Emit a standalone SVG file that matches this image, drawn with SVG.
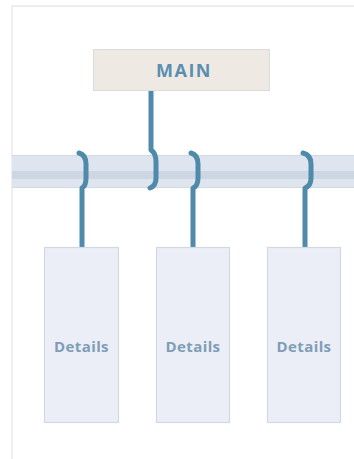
<svg xmlns="http://www.w3.org/2000/svg" width="354" height="459" viewBox="0 0 354 459">
  <style>
    .frame { fill: #ffffff; stroke: #eceef2; stroke-width: 2; }
    .main-box { fill: #efe9e3; stroke: #dcdcdc; stroke-width: 1; }
    .detail-box { fill: #ebeef6; stroke: #d3d9e2; stroke-width: 1.2; }
    .conn { fill: none; stroke: #4f8aab; stroke-width: 5; stroke-linecap: round; stroke-linejoin: round; }
    .main-text { font-family: "Open Sans", "Liberation Sans", sans-serif; font-weight: 700; font-size: 18px; fill: #5a8fb2; letter-spacing: 1.5px; }
    .detail-text { font-family: "Open Sans", "Liberation Sans", sans-serif; font-weight: 700; font-size: 15px; fill: #7f9db7; letter-spacing: 0.4px; }
  </style>
  <rect x="0" y="0" width="354" height="459" fill="#ffffff"/>
  <rect class="frame" x="12" y="6" width="360" height="460"/>

  <g id="band">
    <rect x="12" y="155" width="342" height="33" fill="#dfe5ee"/>
    <rect x="12" y="171" width="342" height="8" fill="#cdd6e3"/>
    <line x1="12" y1="155.5" x2="354" y2="155.5" stroke="#d2d9e3" stroke-width="1"/>
    <line x1="12" y1="187.5" x2="354" y2="187.5" stroke="#d2d9e3" stroke-width="1"/>
  </g>

  <g id="connectors">
    <path class="conn" d="M151 91 L151 150 Q156 153 156 162 L156 178 Q156 186 150 188"/>
    <path class="conn" d="M79 153 Q86 155 86 164 L86 178 Q86 186 82 188 L82 247"/>
    <path class="conn" d="M191 153 Q198 155 198 164 L198 178 Q198 186 193 188 L193 247"/>
    <path class="conn" d="M303 153 Q311 155 311 164 L311 178 Q311 186 305 188 L305 247"/>
  </g>

  <g id="main">
    <rect class="main-box" x="93.5" y="49.5" width="176" height="41"/>
    <text class="main-text" x="184" y="76.5" text-anchor="middle">MAIN</text>
  </g>

  <g id="details1">
    <rect class="detail-box" x="44.5" y="247.5" width="74" height="175"/>
    <text class="detail-text" x="81.5" y="352" text-anchor="middle">Details</text>
  </g>
  <g id="details2">
    <rect class="detail-box" x="156.5" y="247.5" width="73" height="175"/>
    <text class="detail-text" x="193" y="352" text-anchor="middle">Details</text>
  </g>
  <g id="details3">
    <rect class="detail-box" x="267.5" y="247.5" width="73" height="175"/>
    <text class="detail-text" x="304" y="352" text-anchor="middle">Details</text>
  </g>
</svg>
